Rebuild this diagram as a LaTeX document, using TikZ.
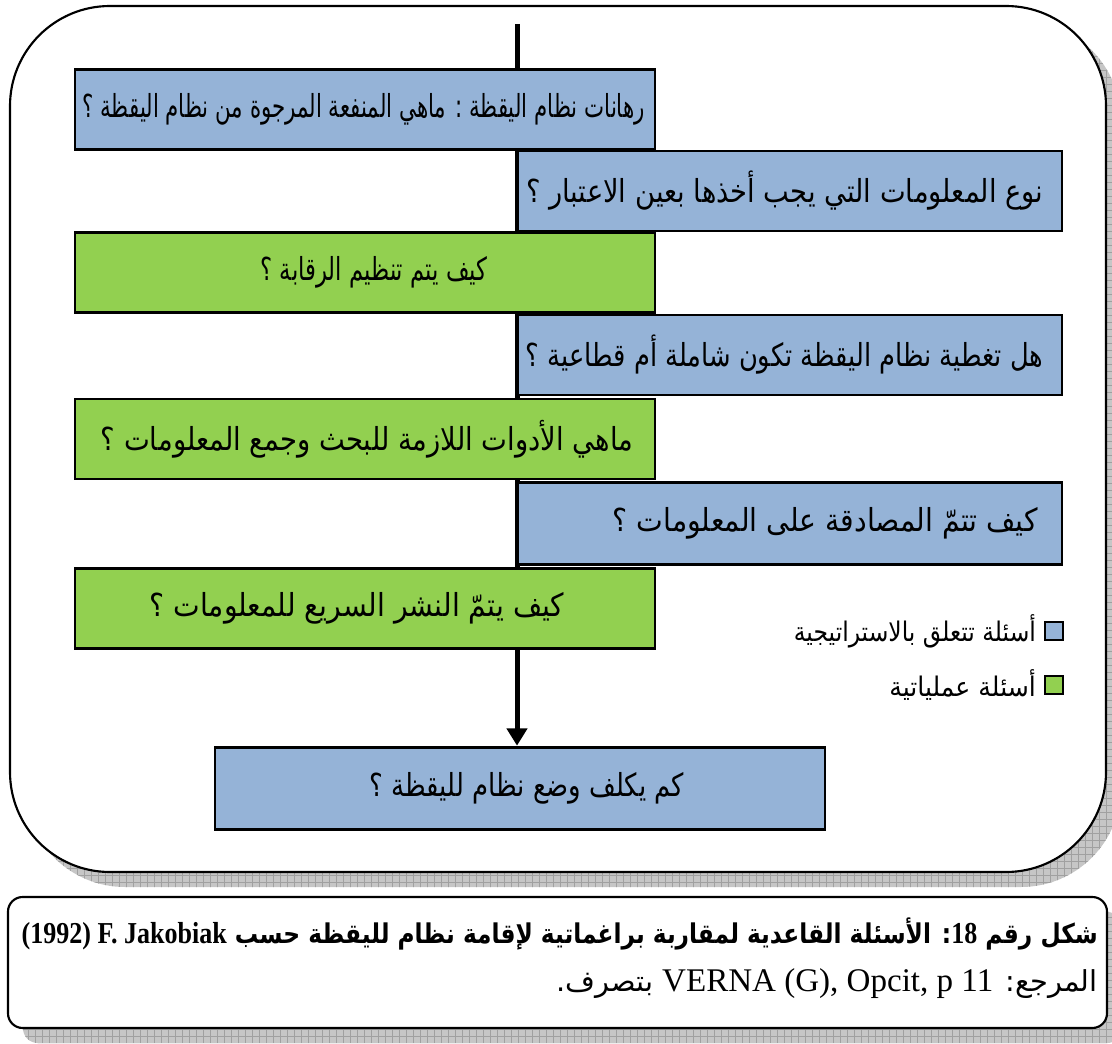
\documentclass[tikz,border=0pt]{standalone}
\usepackage{fontspec}
\usetikzlibrary{arrows.meta}
\TeXXeTstate=1
\setmainfont{Liberation Serif}
\newfontfamily\arabicfont[Script=Arabic]{DejaVu Sans}
\definecolor{stratblue}{HTML}{95B3D7}
\definecolor{opgreen}{HTML}{92D050}
\definecolor{shadowfill}{HTML}{C6C6C6}
\definecolor{shadowgrid}{HTML}{A0A0A0}
% set a line of text to a given width, a little taller than natural
\newcommand\fitq[2]{\resizebox{#1}{1.25\height}{#2}}
% right-aligned within a field of given width
\newcommand\rfield[2]{\makebox[#1][r]{#2}}

\begin{document}
\begin{tikzpicture}[x=0.75pt,y=-0.75pt,
  qbox/.style={draw=black, line width=2.2pt, inner sep=0pt,
    font=\arabicfont\fontsize{19}{23}\selectfont},
  strat/.style={qbox, fill=stratblue},
  oper/.style={qbox, fill=opgreen},
  leftbox/.style={minimum width=435pt, minimum height=60pt},
  rightbox/.style={minimum width=408pt, minimum height=60pt},
  frame/.style={draw=black, line width=1.6pt, fill=white},
  legsq/.style={draw=black, line width=1.2pt, minimum size=13.5pt, inner sep=0pt},
  legtext/.style={font=\arabicfont\fontsize{15}{18}\selectfont, anchor=east, inner sep=0pt},
  spine/.style={line width=3.75pt, -{Triangle[length=13pt,width=15pt]}},
]
\useasboundingbox (0,0) rectangle (1112,1044);

% hatched drop shadows behind the two frames
\begin{scope}
  \clip (0,0) rectangle (1112,1044);
  \fill[shadowfill, rounded corners=75pt] (25,21) rectangle (1121,887);
  \begin{scope}
    \clip[rounded corners=75pt] (25,21) rectangle (1121,887);
    \draw[shadowgrid, line width=0.4pt, step=5.25pt] (0,0) grid (1112,1044);
  \end{scope}
  \fill[shadowfill, rounded corners=11pt] (23,912) rectangle (1122,1043);
  \begin{scope}
    \clip[rounded corners=11pt] (23,912) rectangle (1122,1043);
    \draw[shadowgrid, line width=0.4pt, step=5.25pt] (0,0) grid (1112,1044);
  \end{scope}
\end{scope}

% frames
\draw[frame, rounded corners=75pt] (10,6) rectangle (1106,872);
\draw[frame, rounded corners=11pt] (8,897) rectangle (1107,1028);

% final question and the spine leading to it
\node[strat, minimum width=457.5pt, minimum height=62pt] (q8) at (520,788.5)
  {\hspace*{10.5pt}\fitq{236pt}{\beginR كم يكلف وضع نظام لليقظة ؟\endR}};
\coordinate (top) at (517,24);
\draw[spine] (top) -- (top |- q8.north);

% question boxes
\node[strat, leftbox] (q1) at (365,109.5)
  {\rfield{420pt}{\fitq{422pt}{\beginR رهانات نظام اليقظة : ماهي المنفعة المرجوة من نظام اليقظة ؟\endR}}};
\node[strat, rightbox] (q2) at (790,191)
  {\rfield{380pt}{\fitq{388pt}{\beginR نوع المعلومات التي يجب أخذها بعين الاعتبار ؟\endR}}};
\node[oper, leftbox] (q3) at (365,272.5)
  {\hspace*{13.5pt}\fitq{170pt}{\beginR كيف يتم تنظيم الرقابة ؟\endR}};
\node[strat, rightbox] (q4) at (790,355)
  {\rfield{380pt}{\fitq{388pt}{\beginR هل تغطية نظام اليقظة تكون شاملة أم قطاعية ؟\endR}}};
\node[oper, leftbox] (q5) at (365,439)
  {\rfield{402pt}{\fitq{399pt}{\beginR ماهي الأدوات اللازمة للبحث وجمع المعلومات ؟\endR}}};
\node[strat, rightbox, minimum height=62pt] (q6) at (790,523.5)
  {\rfield{372pt}{\fitq{319pt}{\beginR كيف تتمّ المصادقة على المعلومات ؟\endR}}};
\node[oper, leftbox] (q7) at (365,608.5)
  {\fitq{311pt}{\beginR كيف يتمّ النشر السريع للمعلومات ؟\endR}\hspace*{12pt}};

% legend
\node[legsq, fill=stratblue] (k1) at (1054,631) {};
\node[legtext] (k1t) at ([xshift=-6pt]k1.west)
  {\resizebox{181.5pt}{1.35\height}{\beginR أسئلة تتعلق بالاستراتيجية\endR}};
\node[legsq, fill=opgreen] (k2) at (1054,685) {};
\node[legtext] (k2t) at ([xshift=-6pt]k2.west)
  {\resizebox{110pt}{1.35\height}{\beginR أسئلة عملياتية\endR}};

% caption
\node[anchor=east, inner sep=0pt] (cap1) at (1098,934)
  {\resizebox{807pt}{1.2\height}{\arabicfont\bfseries\fontsize{17}{20}\selectfont
   \beginR شكل رقم \beginL{\rmfamily\bfseries\fontsize{19}{20}\selectfont 18}\endL: الأسئلة القاعدية لمقاربة براغماتية لإقامة نظام لليقظة حسب \beginL{\rmfamily\fontsize{19}{20}\selectfont(\textbf{1992}) \textbf{F}. \textbf{Jakobiak}}\endL\endR}};
\node[anchor=east, inner sep=0pt] (cap2) at (1098,984)
  {\resizebox{406pt}{!}{\arabicfont\fontsize{17}{20}\selectfont
   \beginR المرجع: \beginL{\rmfamily\fontsize{19.5}{24}\selectfont VERNA (G), Opcit, p 11}\endL{} بتصرف.\endR}};
\end{tikzpicture}
\end{document}
